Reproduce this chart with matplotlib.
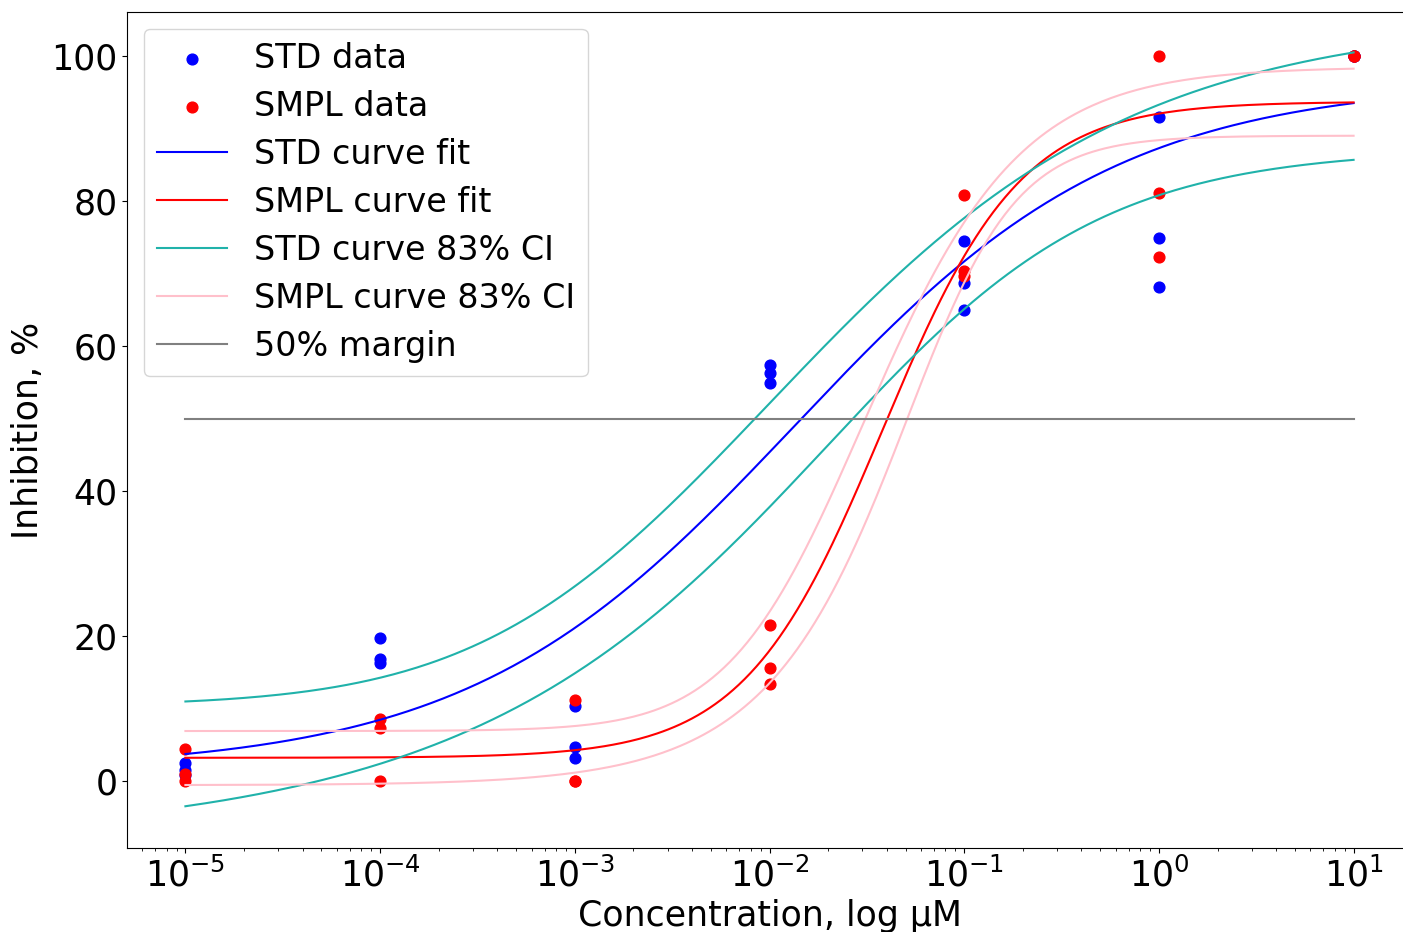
import numpy as np
import matplotlib
matplotlib.use("Agg")
import matplotlib.pyplot as plt

# Concentrations (uM), three replicates each
conc = [1e-5, 1e-4, 1e-3, 1e-2, 1e-1, 1e0, 1e1]

std_data = [
    [2.5, 1.5, 0.8],
    [19.7, 16.8, 16.3],
    [10.3, 4.7, 3.2],
    [57.4, 56.3, 54.9],
    [74.5, 68.7, 65.0],
    [91.6, 74.9, 68.1],
    [100.0, 100.0, 100.0],
]
smpl_data = [
    [4.4, 1.0, 0.0],
    [8.5, 7.3, 0.0],
    [11.2, 0.0, 0.0],
    [21.5, 15.6, 13.4],
    [80.8, 70.3, 69.6],
    [100.0, 81.1, 72.3],
    [100.0, 100.0, 100.0],
]

# Logistic parameters: bottom, top, ic50, hill, asymmetry
std_fit = (1.5, 96.5, 0.01346, 0.518, 1.0)
smpl_fit = (3.2, 93.7, 0.0381, 1.221, 1.0)
std_ci_hi = (10.347, 105.244, 0.0015, 0.4271, 2.2324)
std_ci_lo = (-8.293, 87.168, 0.05248, 0.6649, 0.5243)
smpl_ci_hi = (6.895, 98.486, 0.01919, 1.0287, 1.5851)
smpl_ci_lo = (-0.575, 89.013, 0.07331, 1.6743, 0.5492)


# five parameter logistic (asym = 1 gives the usual 4PL)
def logistic5(x, bottom, top, ic50, hill, asym):
    return bottom + (top - bottom) / (1 + (ic50 / x) ** hill) ** asym


def scatterReplicates(ax, xs, reps, color, label):
    x_all = []
    y_all = []
    for x, vals in zip(xs, reps):
        for v in vals:
            x_all.append(x)
            y_all.append(v)
    ax.scatter(x_all, y_all, color=color, s=60, label=label)


fig = plt.figure(figsize=(14.03, 9.32), dpi=100)
ax = fig.add_axes([127 / 1403, 84 / 932, 1285 / 1403, 836 / 932])

scatterReplicates(ax, conc, std_data, "blue", "STD data")
scatterReplicates(ax, conc, smpl_data, "red", "SMPL data")

xx = np.logspace(-5, 1, 400)
ax.plot(xx, logistic5(xx, *std_fit), color="blue", lw=1.5, label="STD curve fit")
ax.plot(xx, logistic5(xx, *smpl_fit), color="red", lw=1.5, label="SMPL curve fit")
ax.plot(xx, logistic5(xx, *std_ci_hi), color="lightseagreen", lw=1.5, label="STD curve 83% CI")
ax.plot(xx, logistic5(xx, *std_ci_lo), color="lightseagreen", lw=1.5)
ax.plot(xx, logistic5(xx, *smpl_ci_hi), color="pink", lw=1.5, label="SMPL curve 83% CI")
ax.plot(xx, logistic5(xx, *smpl_ci_lo), color="pink", lw=1.5)
ax.plot([conc[0], conc[-1]], [50, 50], color="gray", lw=1.5, label="50% margin")

ax.set_xscale("log")
ax.set_ylim(-9.24, 106.07)
ax.set_yticks([0, 20, 40, 60, 80, 100])
ax.tick_params(labelsize=25)
ax.set_xlabel("Concentration, log μM", fontsize=25)
ax.set_ylabel("Inhibition, %", fontsize=25)
ax.legend(loc="upper left", fontsize=24, labelspacing=0.45, handlelength=2.1)

plt.savefig("out.png", dpi=100)
